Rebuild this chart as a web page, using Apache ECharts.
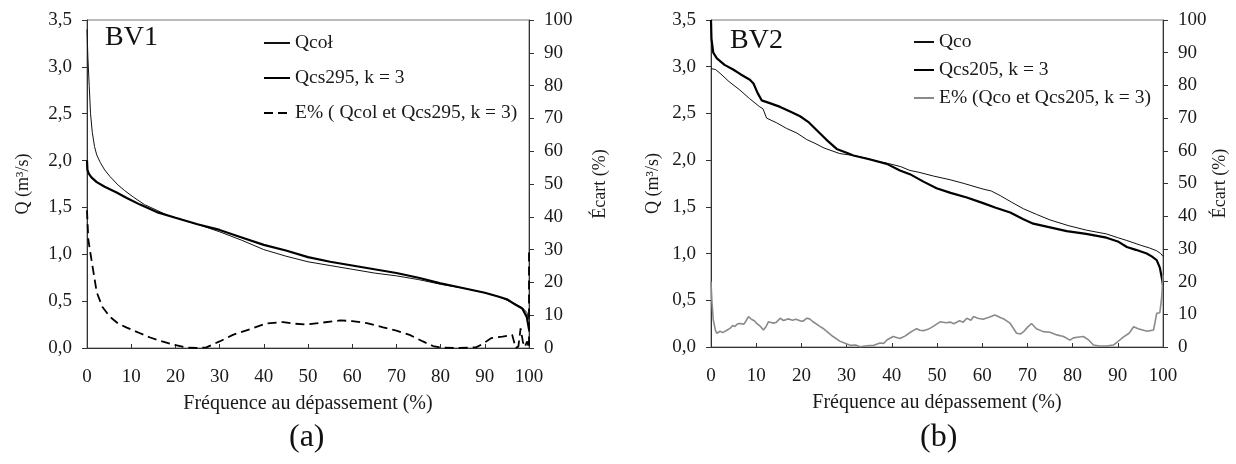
<!DOCTYPE html>
<html>
<head>
<meta charset="utf-8">
<script src="https://cdn.jsdelivr.net/npm/echarts@6/dist/echarts.min.js"></script>
<style>html,body{margin:0;padding:0;background:#fff}#c{width:1236px;height:464px}</style>
</head>
<body>
<div id="c"></div>
<script>
// ---------- BV1 (a) ----------
const bv1QcolF = [0, 0.2, 0.5, 0.8, 1.2, 1.7, 2.2, 3, 4, 5.2, 7, 8.5, 10.5, 13, 15.8, 18, 20, 25, 30, 35, 40, 45, 50, 55, 60, 65, 70, 75, 80, 85, 90, 93, 95, 97, 98.5, 99.5, 100];
const bv1QcolQ = [3.4, 3.1, 2.8, 2.5, 2.3, 2.15, 2.06, 1.98, 1.9, 1.83, 1.74, 1.68, 1.61, 1.53, 1.47, 1.42, 1.39, 1.32, 1.24, 1.15, 1.05, 0.98, 0.92, 0.88, 0.84, 0.8, 0.77, 0.73, 0.68, 0.64, 0.59, 0.55, 0.51, 0.47, 0.43, 0.38, 0.3];

const bv1QcsF = [0, 0.1, 0.4, 1, 2.2, 4, 6.7, 9, 12, 15.8, 20, 25, 30, 35, 40, 45, 50, 55, 60, 65, 70, 75, 80, 85, 90, 93, 95, 97, 98.5, 99.5, 100];
const bv1QcsQ = [2.0, 1.9, 1.86, 1.82, 1.77, 1.72, 1.66, 1.6, 1.53, 1.45, 1.39, 1.32, 1.26, 1.18, 1.1, 1.04, 0.97, 0.92, 0.88, 0.84, 0.8, 0.75, 0.69, 0.64, 0.59, 0.55, 0.52, 0.46, 0.42, 0.33, 0.2];

const bv1EF = [0, 0.3, 1, 2.2, 3.5, 5.2, 7, 9, 12, 14.3, 17, 19.6, 22.6, 25, 27, 30, 33, 37, 40.6, 44.4, 47, 49.6, 53, 57.3, 60, 63.3, 67, 70, 73, 76, 78.3, 80, 84, 88, 89.5, 91.4, 94, 96.2, 96.6, 97, 97.6, 98.1, 98.6, 99, 99.6, 100, 100];
const bv1EV = [42, 33, 27, 17, 12.5, 9.5, 7.5, 6.2, 4.5, 3.2, 2, 1, 0.1, 0, 0.2, 2, 4, 5.8, 7.5, 7.9, 7.4, 7.2, 7.7, 8.4, 8.2, 7.6, 6.3, 5.3, 4, 2, 0.6, 0.1, 0, 0.2, 1.2, 3, 3.5, 4, 3.5, 0, 0.5, 6, 2, 0.3, 2, 0, 30];

// ---------- BV2 (b) ----------
const bv2QcoF = [0, 1, 2, 4, 6.4, 8.5, 10.8, 11.5, 12.3, 14.5, 16.7, 19, 21.2, 23, 25, 28.5, 31.5, 34.5, 37.4, 39.6, 42, 44, 46, 49.2, 52.9, 56, 60.2, 62, 64, 66.5, 69.1, 72, 75, 79, 83.1, 87.5, 90, 92, 95, 97, 98.6, 99.5, 100];
const bv2QcoQ = [2.98, 2.97, 2.93, 2.84, 2.75, 2.66, 2.57, 2.55, 2.45, 2.4, 2.34, 2.29, 2.22, 2.18, 2.13, 2.07, 2.05, 2.02, 1.98, 1.96, 1.93, 1.89, 1.87, 1.83, 1.79, 1.75, 1.69, 1.67, 1.62, 1.55, 1.48, 1.42, 1.36, 1.3, 1.25, 1.21, 1.17, 1.14, 1.09, 1.06, 1.03, 1.0, 0.97];

const bv2QcsF = [0, 0.1, 0.5, 1.3, 3, 4.9, 6.5, 8.6, 9.4, 10.3, 11.2, 13, 15.3, 17.5, 19.7, 21.5, 23.4, 25.5, 27.8, 30, 31.5, 35, 38.9, 41.8, 44, 47, 49.9, 53, 56.6, 60.2, 63, 66.2, 69, 71.3, 75, 78.7, 83, 87.5, 90, 92, 94, 96.4, 97.5, 98.6, 99.3, 99.7, 100];
const bv2QcsQ = [3.5, 3.3, 3.15, 3.09, 3.02, 2.97, 2.92, 2.86, 2.82, 2.72, 2.64, 2.61, 2.57, 2.52, 2.47, 2.41, 2.32, 2.22, 2.12, 2.08, 2.05, 2.01, 1.96, 1.89, 1.85, 1.77, 1.7, 1.65, 1.6, 1.54, 1.49, 1.44, 1.37, 1.32, 1.28, 1.24, 1.21, 1.17, 1.13, 1.07, 1.04, 1.0, 0.97, 0.93, 0.85, 0.75, 0.66];

const bv2EF = [0, 0.2, 0.5, 1, 1.3, 2, 2.6, 3, 3.6, 4.2, 4.8, 5.3, 5.9, 6.4, 7.3, 7.8, 8.3, 9, 9.6, 10.1, 11, 11.6, 12.2, 12.7, 13.3, 13.8, 14.5, 15.3, 16, 16.5, 17.2, 18, 18.8, 19.7, 20.4, 21.2, 21.8, 22.5, 24, 25, 25.6, 27, 28.5, 29.5, 30.8, 32, 33, 34.5, 36, 37.4, 38.2, 39, 40.3, 41.8, 43, 43.8, 44.7, 45.5, 46.2, 47, 48, 48.8, 49.5, 50.7, 52, 53, 53.7, 55, 55.8, 56.6, 57.5, 58.1, 59, 60.2, 61.5, 62.8, 64, 65, 66.2, 67, 67.6, 68.5, 69.1, 70, 70.9, 72, 73.5, 75, 76.5, 78, 79.4, 80.2, 81, 82.4, 83.5, 84.6, 86, 87.5, 89, 89.7, 91.2, 92.5, 93.5, 94.5, 95.5, 96.5, 97.9, 98.3, 98.6, 99.3, 99.7, 100];
const bv2EV = [20, 14, 8.3, 5, 4.2, 4.8, 4.4, 5, 5.2, 5.7, 6.6, 6.3, 7.1, 7.2, 7.0, 8.1, 9.3, 8.4, 8.0, 7.2, 6.2, 5.2, 6.3, 7.7, 7.5, 7.3, 7.6, 8.8, 8.1, 8.3, 8.6, 8.2, 8.5, 8.0, 7.9, 8.8, 8.6, 7.8, 6.4, 5.5, 4.8, 3.2, 1.8, 1.2, 0.5, 0.6, 0.1, 0.4, 0.5, 1.2, 1.1, 2.2, 3.2, 2.6, 3.4, 4.2, 5.0, 5.6, 5.1, 5.0, 5.4, 6.0, 6.6, 7.7, 7.4, 7.6, 7.1, 8.0, 7.6, 8.8, 8.2, 9.3, 8.8, 8.5, 9.1, 9.8, 9.0, 8.4, 7.2, 5.5, 4.2, 4.0, 4.6, 6.0, 7.2, 5.6, 4.7, 4.5, 3.7, 3.2, 2.1, 2.8, 3.0, 3.2, 2.2, 0.6, 0.3, 0.3, 0.6, 1.3, 3.0, 4.2, 6.2, 5.6, 5.2, 4.8, 5.2, 8, 10.3, 10.5, 15, 22];

// ---------- labels ----------
const xTitle = 'Fréquence au dépassement (%)';
const qTitle = 'Q (m³/s)';
const eTitle = 'Écart (%)';
const namesA = ['Qcoł', 'Qcs295, k = 3', 'E% ( Qcol et Qcs295, k = 3)'];
const namesB = ['Qco', 'Qcs205, k = 3', 'E% (Qco et Qcs205, k = 3)'];

const zip = (a, b) => a.map((v, i) => [v, b[i]]);
const FONT = 'Liberation Serif';
const TXT = '#1a1a1a';

function xAx(gi) {
  return {
    gridIndex: gi, type: 'value', min: 0, max: 100, interval: 10,
    axisLine: { lineStyle: { color: '#333', width: 1 } },
    axisTick: { inside: true, length: 4, lineStyle: { color: '#333' } },
    axisLabel: { margin: 20, fontFamily: FONT, fontSize: 19, color: TXT },
    splitLine: { show: false },
    name: xTitle, nameLocation: 'middle', nameGap: 46,
    nameTextStyle: { fontFamily: FONT, fontSize: 20, color: TXT }
  };
}
function qAx(gi, gap) {
  return {
    gridIndex: gi, type: 'value', min: 0, max: 3.5, interval: 0.5, position: 'left',
    axisLine: { show: true, lineStyle: { color: '#333', width: 1 } },
    axisTick: { show: true, inside: false, length: 5, lineStyle: { color: '#333' } },
    axisLabel: { margin: 15, fontFamily: FONT, fontSize: 19, color: TXT, formatter: v => v.toFixed(1).replace('.', ',') },
    splitLine: { show: false },
    name: qTitle, nameLocation: 'middle', nameGap: gap, nameRotate: 90,
    nameTextStyle: { fontFamily: FONT, fontSize: 18, color: TXT }
  };
}
function eAx(gi, gap) {
  return {
    gridIndex: gi, type: 'value', min: 0, max: 100, interval: 10, position: 'right',
    axisLine: { show: true, lineStyle: { color: '#333', width: 1 } },
    axisTick: { show: true, inside: false, length: 5, lineStyle: { color: '#333' } },
    axisLabel: { margin: 15, fontFamily: FONT, fontSize: 19, color: TXT },
    splitLine: { show: false },
    name: eTitle, nameLocation: 'middle', nameGap: gap, nameRotate: 90,
    nameTextStyle: { fontFamily: FONT, fontSize: 18, color: TXT }
  };
}
function line(name, xi, yi, data, style) {
  return {
    name, type: 'line', xAxisIndex: xi, yAxisIndex: yi, data,
    symbol: 'none', showSymbol: false, smooth: false, animation: false,
    lineStyle: style, itemStyle: { color: style.color }, z: 3
  };
}

const chart = echarts.init(document.getElementById('c'), null, { renderer: 'canvas' });
chart.setOption({
  backgroundColor: '#fff',
  animation: false,
  grid: [
    { left: 87, right: 707, top: 20, bottom: 116, show: true, borderColor: '#777', borderWidth: 1, backgroundColor: 'transparent' },
    { left: 711, right: 73, top: 20, bottom: 117, show: true, borderColor: '#777', borderWidth: 1, backgroundColor: 'transparent' }
  ],
  xAxis: [xAx(0), xAx(1)],
  yAxis: [qAx(0, 55), eAx(0, 62), qAx(1, 49), eAx(1, 48)],
  legend: [
    { data: namesA.map(n => ({ name: n })), orient: 'vertical', left: 263, top: 33, padding: 0, itemWidth: 26, itemHeight: 14, itemGap: 15,
      itemStyle: { opacity: 0, borderWidth: 0 },
      textStyle: { fontFamily: FONT, fontSize: 19.5, color: TXT, lineHeight: 20 }, selectedMode: false },
    { data: namesB.map(n => ({ name: n })), orient: 'vertical', left: 913, top: 32, padding: 0, itemWidth: 20, itemHeight: 14, itemGap: 8,
      itemStyle: { opacity: 0, borderWidth: 0 },
      textStyle: { fontFamily: FONT, fontSize: 19.5, color: TXT, lineHeight: 20 }, selectedMode: false }
  ],
  series: [
    line(namesA[0], 0, 0, zip(bv1QcolF, bv1QcolQ), { color: '#111', width: 1 }),
    line(namesA[1], 0, 0, zip(bv1QcsF, bv1QcsQ), { color: '#000', width: 2.2 }),
    line(namesA[2], 0, 1, zip(bv1EF, bv1EV), { color: '#000', width: 1.8, type: [9, 5] }),
    line(namesB[0], 1, 2, zip(bv2QcoF, bv2QcoQ), { color: '#111', width: 1 }),
    line(namesB[1], 1, 2, zip(bv2QcsF, bv2QcsQ), { color: '#000', width: 2.2 }),
    line(namesB[2], 1, 3, zip(bv2EF, bv2EV), { color: '#8a8a8a', width: 1.6 })
  ],
  graphic: [
    { type: 'text', left: 105, top: 24, style: { text: 'BV1', font: '28px "Liberation Serif"', fill: '#111' } },
    { type: 'text', left: 730, top: 27, style: { text: 'BV2', font: '28px "Liberation Serif"', fill: '#111' } },
    { type: 'text', left: 289, top: 422, style: { text: '(a)', font: '32px "Liberation Serif"', fill: '#111' } },
    { type: 'text', left: 920, top: 422, style: { text: '(b)', font: '32px "Liberation Serif"', fill: '#111' } }
  ]
});
</script>
</body>
</html>
